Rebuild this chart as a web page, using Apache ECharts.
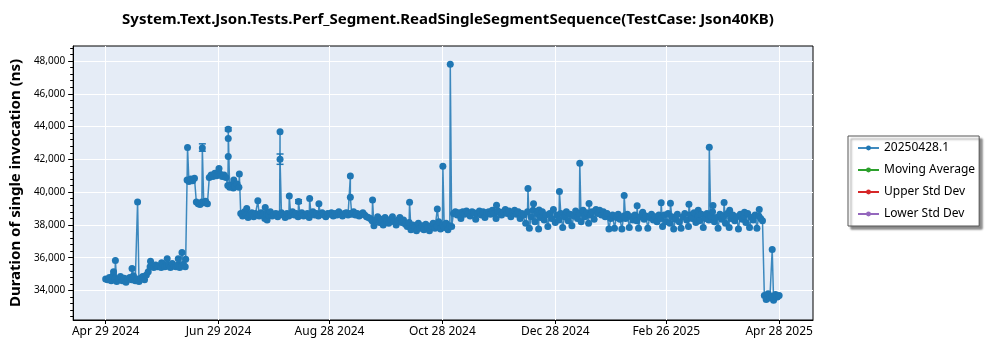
<!DOCTYPE html>
<html>
<head>
<meta charset="utf-8">
<script src="https://cdn.jsdelivr.net/npm/echarts@6/dist/echarts.min.js"></script>
<style>
  html, body { margin: 0; padding: 0; background: #fff; }
  #chart { width: 1000px; height: 350px; }
</style>
</head>
<body>
<div id="chart"></div>
<script>
// Benchmark history: one median per daily run, plus extra runs on some days.
const chartTitle = 'System.Text.Json.Tests.Perf_Segment.ReadSingleSegmentSequence(TestCase: Json40KB)';
const yAxisTitle = 'Duration of single invocation (ns)';
const seriesNames = ['20250428.1', 'Moving Average', 'Upper Std Dev', 'Lower Std Dev'];
const seriesColors = ['#1f77b4', '#2ca02c', '#d62728', '#9467bd'];
const firstRunDate = [2024, 3, 29]; // Apr 29 2024 (month is 0-based)

// Daily runs, in order, one value per calendar day (ns)
const runsEarlyMay = [34700, 34650, 34800, 34600, 34900, 34750, 34550, 34700, 34850, 34600, 34750,
  34500, 34700, 34800, 34650, 34900, 34600, 34700, 34550, 34750, 34850, 34650, 34950, 35150];
const runsLateMay = [35450, 35500, 35400, 35550, 35450, 35500, 35400, 35600, 35450, 35500,
  35550, 35400, 35650, 35500, 35450, 35550, 35400, 35500, 35600, 35450];
const runsJune = [40750, 40650, 40800, 40700, 40850,
  39400, 39300, 39250, 39400, 39350, 39450, 39300,
  40900, 41050, 40950, 41150, 41000, 41250, 41100, 40950, 41050, 40900,
  40400, 40300, 40450, 40250, 40350, 40500, 40300];
const runsSummer = [
  38700, 38550, 38800, 38600, 38450, 38650, 38750, 38500, 38700, 38600,
  38550, 38750, 38650, 38400, 38700, 38600, 38800, 38550, 38650, 38700,
  38500, 38650, 38750, 38600, 38450, 38700, 38550, 38650, 38800, 38600,
  38700, 38500, 38650, 38750, 38550, 38600, 38700, 38450, 38650, 38800,
  38600, 38700, 38550, 38650, 38750, 38600, 38500, 38700, 38650, 38750,
  38550, 38700, 38600, 38800, 38650, 38550, 38700, 38750, 38600, 38700,
  38650, 38800, 38600, 38700, 38550, 38650, 38750, 38600, 38500, 38450];
const runsAutumn = [
  38400, 38250, 37950, 38300, 38500, 38150, 38350, 38000, 38450, 38250,
  38100, 38350, 38500, 38200, 38000, 38300, 38450, 38150, 38300, 38050,
  37900, 38150, 37700, 38000, 37850, 37650, 38100, 37800, 37950, 37700,
  38050, 37850, 37650, 37950, 38100, 37800, 37900, 38200, 37750, 38000,
  37850, 38100, 37700, 37950];
const runsWinter = [
  37900, 38700, 38800, 38600, 38750, 38400, 38800, 38650, 38850, 38700,
  38550, 38800, 38750, 38350, 38700, 38850, 38600, 38800, 38450, 38750,
  38800, 38650, 38900, 38700, 38400, 38850, 38750, 38600, 38800, 38950,
  38700, 38850, 38500, 38750, 38900, 38650, 38800, 38400, 38700,
  38600, 38100, 38800, 37800, 38500, 38900, 38200, 38700, 37750, 38450,
  38800, 38300, 38600, 37900, 38700, 38400, 38950, 38150, 38600, 38300,
  38700, 37850, 38500, 38800, 38250, 38650, 37950, 38550, 38850, 38400,
  38700, 38200, 38900, 38500, 38750, 38100, 38600, 38800, 38350, 38950,
  38700, 38900, 38600, 38800, 38500, 38700, 37750, 38400, 38600, 37800,
  38450, 38650, 38350, 37750, 38550, 38400, 38650, 37850, 38500, 38300,
  38600, 38250, 37800, 38500, 38700, 38350, 38550, 37800, 38450, 38650,
  38300, 38500, 38200, 38600];
const runsSpring = [
  38400, 37900, 38600, 38200, 38700, 38100, 38500, 37750, 38350, 38650,
  38200, 37800, 38500, 38700, 38300, 37900, 38600, 38400, 38750, 38150,
  38500, 38250, 38650, 37850, 38400, 38700, 38300, 38550, 38800, 38200,
  38450, 37800, 38650, 38350, 38550, 38100, 38700, 37850, 38400, 38600,
  38250, 38500, 37750, 38650, 38350, 38550, 38150, 38700, 37850, 38450,
  38300, 38600, 37800, 38550, 38400, 38250];
const runsLateApril = [33700, 33450, 33800, 33550, 33650, 33400, 33750, 33600, 33700];

// Additional runs on the same day: [day index, value]
const extraRuns = [
  [4, 35150], [5, 35830], [14, 35340], [17, 39400], [24, 35780], [30, 35700], [33, 35930],
  [39, 35930], [41, 36320], [43, 35900], [44, 42720], [52, 42700], [61, 41450],
  [66, 42170], [66, 43270], [66, 43840], [69, 40750], [72, 41110], [76, 39000],
  [82, 39470], [86, 39060], [87, 38300], [94, 43690], [94, 42010], [99, 39770],
  [104, 39430], [110, 39610], [115, 39290], [132, 40990], [132, 39690], [144, 39520],
  [164, 39380], [179, 38980], [182, 41580], [186, 47800], [211, 39200], [228, 40230],
  [231, 39290], [234, 38920], [245, 40045], [256, 41770], [261, 39310], [280, 39790],
  [287, 39170], [290, 38780], [300, 39360], [305, 39330], [315, 39260], [320, 38900],
  [326, 42740], [328, 39180], [334, 39370], [337, 38900], [345, 38780], [353, 38950],
  [360, 36500]];

// Error bars on some extra runs: [day index, low, high]
const errorRanges = [[52, 42500, 42950], [66, 43740, 43940], [94, 41700, 42330], [104, 39320, 39540]];

const xTickLabels = ['Apr 29 2024', 'Jun 29 2024', 'Aug 28 2024', 'Oct 28 2024', 'Dec 28 2024', 'Feb 26 2025', 'Apr 28 2025'];
const yTickValues = [34000, 36000, 38000, 40000, 42000, 44000, 46000, 48000];

const dailyRuns = [].concat(runsEarlyMay, runsLateMay, runsJune, runsSummer, runsAutumn,
  runsWinter, runsSpring, runsLateApril);

function dayTime(dayIndex, hour) {
  return new Date(firstRunDate[0], firstRunDate[1], firstRunDate[2], hour).getTime() + dayIndex * 86400000;
}

const runs = dailyRuns.map((v, i) => ({ t: dayTime(i, 12), v: v, k: 0 }));
extraRuns.forEach((r, j) => runs.push({ t: dayTime(r[0], 18), v: r[1], k: j + 1 }));
runs.sort((a, b) => a.t - b.t || a.k - b.k);
const mainData = runs.map(r => [r.t, r.v]);
const errorData = errorRanges.map(e => [dayTime(e[0], 18), e[1], e[2]]);

const monthNames = ['Jan', 'Feb', 'Mar', 'Apr', 'May', 'Jun', 'Jul', 'Aug', 'Sep', 'Oct', 'Nov', 'Dec'];
const xTickValues = xTickLabels.map(s => new Date(s + ' 12:00').getTime());
const yMinorTicks = [];
for (let v = 32400; v <= 48800; v += 400) if (v % 2000 !== 0) yMinorTicks.push(v);

const yMin = 32200, yMax = 48920;
const xMin = dayTime(-17.56, 12), xMax = dayTime(382.3, 12);

const baseFont = 'Noto Sans, Open Sans, sans-serif';
const chart = echarts.init(document.getElementById('chart'), null, { renderer: 'canvas' });

const series = [{
  name: seriesNames[0],
  type: 'line',
  data: mainData,
  color: seriesColors[0],
  symbol: 'circle',
  symbolSize: 7,
  showSymbol: true,
  showAllSymbol: true,
  sampling: 'none',
  lineStyle: { width: 1.5, color: seriesColors[0], opacity: 0.85 },
  itemStyle: { color: seriesColors[0] },
  z: 2
}];
for (let i = 1; i < seriesNames.length; i++) {
  series.push({
    name: seriesNames[i], type: 'line', data: [], color: seriesColors[i],
    symbol: 'circle', lineStyle: { width: 1.5, color: seriesColors[i] },
    itemStyle: { color: seriesColors[i] }
  });
}
series.push({
  name: 'errors',
  type: 'custom',
  silent: true,
  z: 3,
  data: errorData,
  encode: { x: 0, y: [1, 2] },
  renderItem: function (params, api) {
    const t = api.value(0);
    const lo = api.coord([t, api.value(1)]);
    const hi = api.coord([t, api.value(2)]);
    const w = 3.5;
    const st = { stroke: seriesColors[0], lineWidth: 1.5 };
    return {
      type: 'group',
      children: [
        { type: 'line', shape: { x1: lo[0], y1: lo[1], x2: hi[0], y2: hi[1] }, style: st },
        { type: 'line', shape: { x1: lo[0] - w, y1: lo[1], x2: lo[0] + w, y2: lo[1] }, style: st },
        { type: 'line', shape: { x1: hi[0] - w, y1: hi[1], x2: hi[0] + w, y2: hi[1] }, style: st }
      ]
    };
  }
});

chart.setOption({
  animation: false,
  backgroundColor: '#ffffff',
  textStyle: { fontFamily: baseFont },
  title: {
    text: chartTitle,
    left: 443,
    top: 7,
    textAlign: 'center',
    textStyle: { fontFamily: baseFont, fontSize: 15, fontWeight: 'bold', color: '#000' }
  },
  legend: {
    data: seriesNames,
    orient: 'vertical',
    left: 848,
    top: 136,
    padding: [5, 4, 5, 9],
    itemWidth: 21,
    itemHeight: 6,
    itemGap: 8,
    backgroundColor: '#ffffff',
    borderColor: '#555',
    borderWidth: 1,
    shadowColor: 'rgba(0,0,0,0.45)',
    shadowBlur: 2,
    shadowOffsetX: 3,
    shadowOffsetY: 3,
    textStyle: { fontFamily: baseFont, fontSize: 12, lineHeight: 14, color: '#000' }
  },
  grid: {
    left: 71, right: 187, top: 46, bottom: 30,
    show: true, backgroundColor: '#e5ecf6', borderColor: '#000', borderWidth: 1
  },
  xAxis: {
    type: 'value',
    min: xMin,
    max: xMax,
    axisLine: { show: true, lineStyle: { color: '#000', width: 1 } },
    axisTick: { show: true, length: 4, customValues: xTickValues, lineStyle: { color: '#000' } },
    axisLabel: {
      customValues: xTickValues,
      color: '#000', fontSize: 12, margin: 6, fontFamily: baseFont,
      formatter: function (v) {
        const d = new Date(v);
        return monthNames[d.getMonth()] + ' ' + d.getDate() + ' ' + d.getFullYear();
      }
    },
    splitLine: { show: true, lineStyle: { color: '#ffffff', width: 1 } }
  },
  yAxis: [{
    type: 'value',
    min: yMin,
    max: yMax,
    name: yAxisTitle,
    nameLocation: 'middle',
    nameGap: 50,
    nameTextStyle: { fontFamily: baseFont, fontSize: 15, fontWeight: 'bold', color: '#000' },
    axisLine: { show: true, lineStyle: { color: '#000', width: 1 } },
    axisTick: { show: true, length: 5, customValues: yTickValues, lineStyle: { color: '#000' } },
    axisLabel: {
      customValues: yTickValues,
      color: '#000', fontSize: 10, margin: 8, fontFamily: baseFont,
      formatter: v => v.toLocaleString('en-US')
    },
    splitLine: { show: true, lineStyle: { color: '#ffffff', width: 1 } }
  }, {
    type: 'value',
    min: yMin,
    max: yMax,
    position: 'left',
    axisLine: { show: false },
    axisTick: { show: true, length: 3, customValues: yMinorTicks, lineStyle: { color: '#000' } },
    axisLabel: { show: false },
    splitLine: { show: false }
  }],
  series: series
});
</script>
</body>
</html>
